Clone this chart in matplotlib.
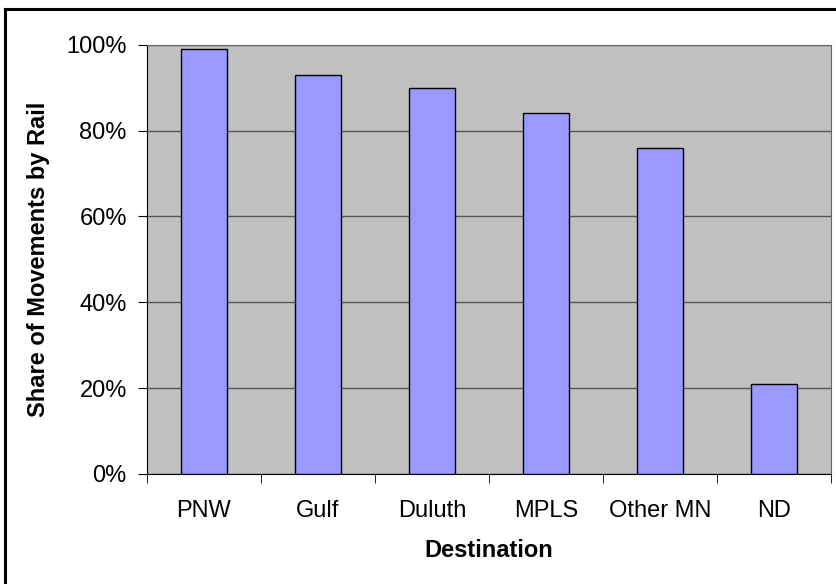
import numpy as np
import matplotlib.pyplot as plt
from matplotlib.ticker import PercentFormatter
from matplotlib.lines import Line2D

plt.rcParams['font.family'] = ['Liberation Sans', 'DejaVu Sans']

# rail share by destination
destinations = ['PNW', 'Gulf', 'Duluth', 'MPLS', 'Other MN', 'ND']
rail_share = [99, 93, 90, 84, 76, 21]

W, H = 836, 584
fig = plt.figure(figsize=(W / 100, H / 100), dpi=100)
ax = fig.add_axes([147 / W, 1 - 474 / H, (831 - 147) / W, (474 - 44.7) / H])

x = np.arange(len(destinations))
ax.set_facecolor('#c0c0c0')
ax.bar(x, rail_share, width=0.40, color='#9999ff', edgecolor='black', linewidth=1.0, zorder=3)

ax.set_xlim(-0.5, len(destinations) - 0.5)
ax.set_ylim(0, 100)
ax.set_yticks(np.arange(0, 101, 20))
ax.yaxis.set_major_formatter(PercentFormatter(decimals=0))
ax.grid(axis='y', color='#555555', linewidth=1.0, zorder=1)

ax.set_xticks(x)
ax.set_xticklabels(destinations)
ax.set_xticks(np.arange(-0.5, len(destinations)), minor=True)
ax.tick_params(axis='x', which='major', length=0, pad=19, labelsize=17)
ax.tick_params(axis='x', which='minor', length=6.5, direction='out', color='black')
ax.tick_params(axis='y', length=6.5, direction='out', labelsize=17, pad=8)

for side in ['top', 'right']:
    ax.spines[side].set_color('#666666')
ax.spines['left'].set_color('black')
ax.spines['bottom'].set_color('black')

ax.set_xlabel('Destination', fontsize=17, fontweight='bold', labelpad=12)
ax.set_ylabel('Share of Movements by Rail', fontsize=17, fontweight='bold', labelpad=12)

# chart border (top and left edges only fall inside the image)
fig.add_artist(Line2D([5 / W, 5 / W], [0, 1 - 9 / H], color='black', linewidth=2.2))
fig.add_artist(Line2D([5 / W, 1], [1 - 9 / H, 1 - 9 / H], color='black', linewidth=2.2))

fig.savefig('out.png', dpi=100)
